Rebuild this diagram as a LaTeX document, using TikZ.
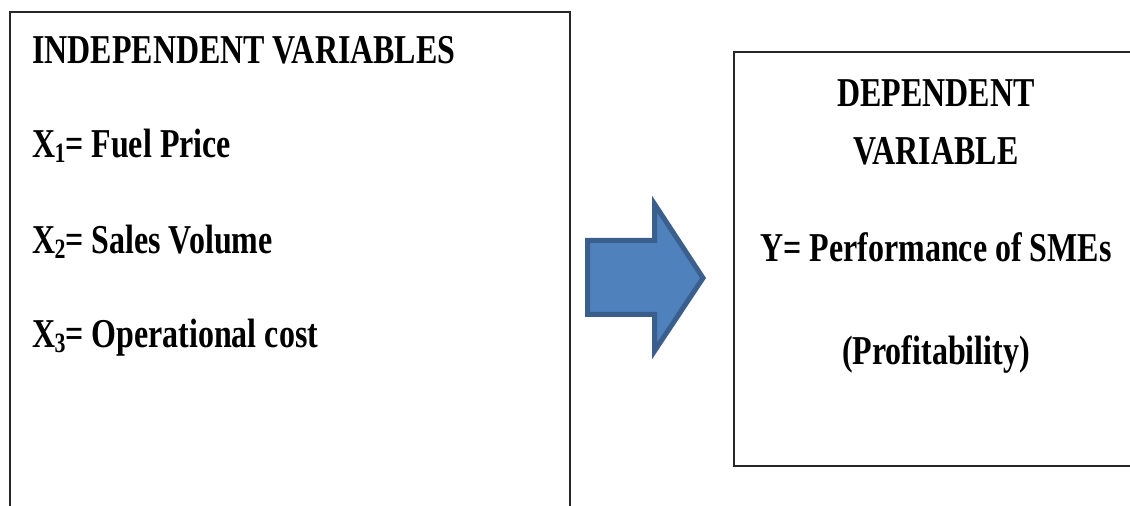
\documentclass[tikz,border=0pt]{standalone}
\usepackage{fontspec}
\setmainfont{Liberation Serif}
\usepackage{graphicx}
\usetikzlibrary{positioning}
\definecolor{arrowfill}{HTML}{4F81BD}
\definecolor{arrowline}{HTML}{3A5F8C}
\newcommand{\narrow}[1]{\scalebox{0.78}[1]{#1}}
\newcommand{\lowsub}[1]{\raisebox{-5pt}{\fontsize{28}{30}\selectfont #1}}

\begin{document}
\begin{tikzpicture}[x=1pt,y=1pt,every node/.style={inner sep=0pt,font=\fontsize{41}{48}\selectfont\bfseries},
  varbox/.style={draw=black!85,line width=2pt}]
\useasboundingbox (0,0) rectangle (1130,506);
% the two boxes, both cut by the page edge
\draw[varbox] (10,-20) rectangle (570,494);
\draw[varbox] (734,454) rectangle (1150,40);
% independent side
\node[anchor=base west] (indep) at (32,442) {\narrow{INDEPENDENT VARIABLES}};
\foreach \i/\txt/\y in {1/Fuel Price/348,2/Sales Volume/252,3/Operational cost/158}
  \node[anchor=base west] (x\i) at (32,\y) {\narrow{X\kern-1pt\lowsub{\i}= \txt}};
% dependent side
\node[anchor=base] (dep) at (936,399) {\narrow{DEPENDENT}};
\node[anchor=base] (var) at (936,341) {\narrow{VARIABLE}};
\node[anchor=base] (y) at (936,244) {\narrow{Y= Performance of SMEs}};
\node[anchor=base] (prof) at (936,141) {\narrow{(Profitability)}};
% block arrow
\coordinate (A) at (587.5,265.5);
\coordinate (B) at (654.5,265.5);
\coordinate (C) at (654.5,302);
\coordinate (D) at (703,228);
\coordinate (E) at (654.5,155);
\coordinate (F) at (654.5,191.5);
\coordinate (G) at (587.5,191.5);
\filldraw[fill=arrowfill,draw=arrowline,line width=5pt,line join=miter]
  (A)--(B)--(C)--(D)--(E)--(F)--(G)--cycle;
\end{tikzpicture}
\end{document}
